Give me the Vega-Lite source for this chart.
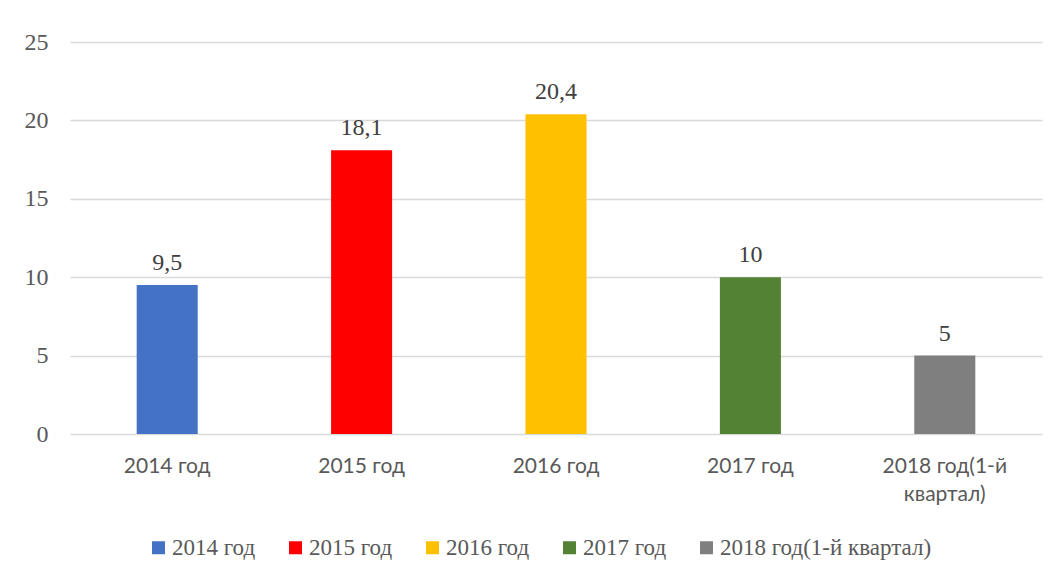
{
  "$schema": "https://vega.github.io/schema/vega-lite/v6.json",
  "width": 972,
  "height": 392,
  "autosize": {"type": "none"},
  "padding": {"left": 70, "top": 42, "right": 18, "bottom": 142},
  "background": "white",
  "config": {
    "view": {"stroke": null},
    "locale": {"number": {"decimal": ",", "thousands": " ", "grouping": [3], "currency": ["", ""]}}
  },
  "data": {
    "values": [
      {"period": "2014 год", "value": 9.5},
      {"period": "2015 год", "value": 18.1},
      {"period": "2016 год", "value": 20.4},
      {"period": "2017 год", "value": 10},
      {"period": "2018 год(1-й квартал)", "value": 5}
    ]
  },
  "encoding": {
    "x": {
      "field": "period",
      "type": "nominal",
      "sort": null,
      "scale": {"paddingInner": 0.686, "paddingOuter": 0.343},
      "axis": {
        "title": null,
        "labelAngle": 0,
        "domain": false,
        "ticks": false,
        "labelFont": "Lato",
        "labelFontSize": 21,
        "labelColor": "#595959",
        "labelPadding": 21,
        "labelLineHeight": 28,
        "labelLimit": 300,
        "labelExpr": "datum.label == '2018 год(1-й квартал)' ? ['2018 год(1-й', 'квартал)'] : datum.label"
      }
    },
    "y": {
      "field": "value",
      "type": "quantitative",
      "scale": {"domain": [0, 25]},
      "axis": {
        "title": null,
        "values": [0, 5, 10, 15, 20, 25],
        "domain": false,
        "ticks": false,
        "gridColor": "#d9d9d9",
        "gridWidth": 1.3,
        "labelFont": "Liberation Serif",
        "labelFontSize": 24,
        "labelColor": "#595959",
        "labelPadding": 22,
        "labelAlign": "right"
      }
    }
  },
  "layer": [
    {
      "mark": {"type": "bar"},
      "encoding": {
        "color": {
          "field": "period",
          "type": "nominal",
          "sort": null,
          "scale": {
            "domain": ["2014 год", "2015 год", "2016 год", "2017 год", "2018 год(1-й квартал)"],
            "range": ["#4472C4", "#FF0000", "#FFC000", "#548235", "#7F7F7F"]
          },
          "legend": {
            "title": null,
            "orient": "none",
            "legendX": 77,
            "legendY": 494,
            "direction": "horizontal",
            "symbolType": "square",
            "symbolSize": 169,
            "symbolStrokeWidth": 0,
            "labelFont": "Liberation Serif",
            "labelFontSize": 23,
            "labelColor": "#595959",
            "labelLimit": 400,
            "columnPadding": 28,
            "labelOffset": 2
          }
        }
      }
    },
    {
      "mark": {"type": "text", "dy": -22, "font": "Liberation Serif", "fontSize": 24, "color": "#404040"},
      "encoding": {
        "text": {"field": "value", "type": "quantitative", "format": ".1~f"}
      }
    }
  ]
}
